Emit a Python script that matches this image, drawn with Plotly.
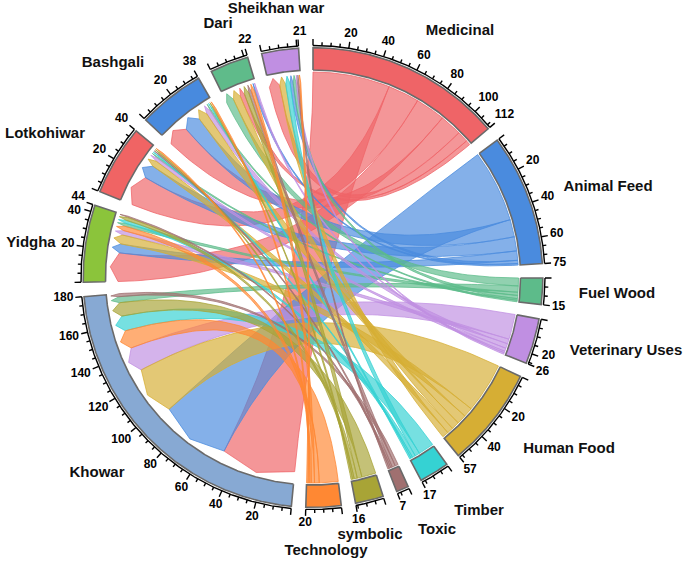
import math
import plotly.graph_objects as go

# ---------------- data ----------------
uses = ["Medicinal", "Animal Feed", "Fuel Wood", "Veterinary Uses", "Human Food",
        "Timber", "Toxic", "symbolic", "Technology"]
languages = ["Khowar", "Yidgha", "Lotkohiwar", "Bashgali", "Dari", "Sheikhan war"]

# number of species per use (rows) and language (columns, same order as `languages`)
medicinal = [49, 19, 20, 14, 3, 7]
animal_feed = [46, 6, 9, 11, 1, 2]
fuel_wood = [4, 2, 1, 1, 5, 2]
veterinary = [16, 3, 2, 3, 1, 1]
human_food = [32, 6, 4, 6, 5, 4]
timber = [10, 2, 1, 1, 0, 3]
toxic = [2, 1, 1, 0, 2, 1]
symbolic = [9, 2, 1, 1, 3, 0]
technology = [12, 3, 1, 1, 2, 1]

use_colors = ["#EF6467", "#4A8BDE", "#5DBB8A", "#C08FE2", "#D6AE34",
              "#35D2D3", "#A07070", "#A8A436", "#FF8833"]
lang_colors = ["#87A9D3", "#8BC43B", "#F06464", "#488ADE", "#5FBB8A", "#C08FE2"]

# ---------------- layout constants ----------------
W, H = 685, 562
CX, CY = 313.0, 277.5
GAP = 3.6
R_SRC = 205.5
R_CORNER = 195.0
R_TIP = 203.0
R_BIN, R_BOUT = 207.5, 229.8
R_AX = 232.0
FONT = "Liberation Sans, Arial, sans-serif"

name_xy = {
    "Medicinal": (460, 31), "Animal Feed": (608, 187), "Fuel Wood": (617, 294),
    "Veterinary Uses": (626, 351), "Human Food": (569, 449), "Timber": (479, 511),
    "Toxic": (437, 530), "symbolic": (370, 535), "Technology": (326, 551),
    "Khowar": (97, 473), "Yidgha": (31, 243), "Lotkohiwar": (45, 134),
    "Bashgali": (113, 63), "Dari": (218, 24), "Sheikhan war": (276, 9),
}

flows = [medicinal, animal_feed, fuel_wood, veterinary, human_food,
         timber, toxic, symbolic, technology]
nu, nl = len(uses), len(languages)

sectors = uses + languages
sizes = [sum(r) for r in flows] + [sum(flows[i][j] for i in range(nu)) for j in range(nl)]
colors = use_colors + lang_colors
UNIT = (360.0 - GAP * len(sectors)) / sum(sizes)

starts = []
a = -90.0
for s in sizes:
    starts.append(a)
    a += s * UNIT + GAP


def pt(theta, r):
    t = math.radians(theta)
    return (CX + r * math.cos(t), CY + r * math.sin(t))


def arc(t1, t2, r, step=0.3):
    n = max(2, int(abs(t2 - t1) / step) + 2)
    return [pt(t1 + (t2 - t1) * k / (n - 1), r) for k in range(n)]


def bez(p0, p2, n=70):
    out = []
    for k in range(n + 1):
        t = k / n
        x = (1 - t) ** 2 * p0[0] + 2 * (1 - t) * t * CX + t * t * p2[0]
        y = (1 - t) ** 2 * p0[1] + 2 * (1 - t) * t * CY + t * t * p2[1]
        out.append((x, y))
    return out


def rgba(hx, al):
    hx = hx.lstrip("#")
    r, g, b = int(hx[0:2], 16), int(hx[2:4], 16), int(hx[4:6], 16)
    return f"rgba({r},{g},{b},{al})"


# allocate link slots (descending by value inside each sector)
src_pos, tgt_pos = {}, {}
for i, row in enumerate(flows):
    cur = starts[i]
    for j in sorted(range(nl), key=lambda j: -row[j]):
        if row[j] > 0:
            src_pos[(i, j)] = (cur, cur + row[j] * UNIT)
            cur += row[j] * UNIT
for j in range(nl):
    col = [flows[i][j] for i in range(nu)]
    cur = starts[nu + j]
    for i in sorted(range(nu), key=lambda i: -col[i]):
        if col[i] > 0:
            tgt_pos[(i, j)] = (cur, cur + col[i] * UNIT)
            cur += col[i] * UNIT

fig = go.Figure()

# ribbons
for i in range(nu):
    for j in range(nl):
        if flows[i][j] <= 0:
            continue
        a1, a2 = src_pos[(i, j)]
        b1, b2 = tgt_pos[(i, j)]
        pts = arc(a1, a2, R_SRC)
        pts += bez(pt(a2, R_SRC), pt(b1, R_CORNER))
        pts += [pt(b1, R_CORNER), pt((b1 + b2) / 2, R_TIP), pt(b2, R_CORNER)]
        pts += bez(pt(b2, R_CORNER), pt(a1, R_SRC))
        xs = [p[0] for p in pts]
        ys = [p[1] for p in pts]
        fig.add_trace(go.Scatter(
            x=xs, y=ys, mode="lines", fill="toself",
            fillcolor=rgba(use_colors[i], 0.68),
            line=dict(color=rgba(use_colors[i], 0.95), width=0.8),
            hoverinfo="skip", showlegend=False))

# sector bands
for k, name in enumerate(sectors):
    s = starts[k]
    e = s + sizes[k] * UNIT
    pts = arc(s, e, R_BIN) + arc(e, s, R_BOUT)
    pts.append(pts[0])
    fig.add_trace(go.Scatter(
        x=[p[0] for p in pts], y=[p[1] for p in pts], mode="lines", fill="toself",
        fillcolor=colors[k], line=dict(color="#6a6a6a", width=1.6),
        hoverinfo="skip", showlegend=False))

# axis arcs + ticks
ax_x, ax_y = [], []
lab_x, lab_y, lab_t = [], [], []
for k, name in enumerate(sectors):
    s = starts[k]
    size = sizes[k]
    for p in arc(s, s + size * UNIT, R_AX):
        ax_x.append(p[0]); ax_y.append(p[1])
    ax_x.append(None); ax_y.append(None)
    vals = list(range(0, size + 1, 5))
    if size not in vals:
        vals.append(size)
    for v in vals:
        th = s + v * UNIT
        major = (v % 20 == 0) or v == size
        p0 = pt(th, R_AX)
        p1 = pt(th, R_AX + (6.5 if major else 3.5))
        ax_x += [p0[0], p1[0], None]
        ax_y += [p0[1], p1[1], None]
    labs = [v for v in range(20, size + 1, 20) if size - v >= 4 or v == size]
    if size not in labs:
        labs.append(size)
    for v in labs:
        th = s + v * UNIT
        # spread labels that sit very close to the sector end label
        if v != size and size - v <= 6:
            th -= 0.9
        elif v == size and (size % 20) and (size % 20) <= 6 and size > 20:
            th += 0.5
        txt = str(v)
        w = 6.7 * len(txt)
        hgt = 11.0
        t = math.radians(th)
        r = R_AX + 8 + (w / 2) * abs(math.cos(t)) + (hgt / 2) * abs(math.sin(t))
        p = pt(th, r)
        lab_x.append(p[0]); lab_y.append(p[1]); lab_t.append(txt)

fig.add_trace(go.Scatter(x=ax_x, y=ax_y, mode="lines",
                         line=dict(color="black", width=1.4),
                         hoverinfo="skip", showlegend=False))
fig.add_trace(go.Scatter(x=lab_x, y=lab_y, mode="text", text=lab_t,
                         textposition="middle center", cliponaxis=False,
                         textfont=dict(family=FONT, size=12, color="black", weight="bold"),
                         hoverinfo="skip", showlegend=False))

# sector names
fig.add_trace(go.Scatter(
    x=[name_xy[n][0] for n in sectors], y=[name_xy[n][1] for n in sectors],
    mode="text", text=sectors, textposition="middle center", cliponaxis=False,
    textfont=dict(family=FONT, size=15, color="#111111", weight="bold"),
    hoverinfo="skip", showlegend=False))

fig.update_layout(
    width=W, height=H, margin=dict(l=0, r=0, t=0, b=0),
    paper_bgcolor="white", plot_bgcolor="white", showlegend=False,
    xaxis=dict(range=[0, W], visible=False, fixedrange=True),
    yaxis=dict(range=[H, 0], visible=False, fixedrange=True),
)
fig.write_html("out.html", config={"displayModeBar": False},
               post_script="document.body.style.margin='0';document.body.style.overflow='hidden';")
